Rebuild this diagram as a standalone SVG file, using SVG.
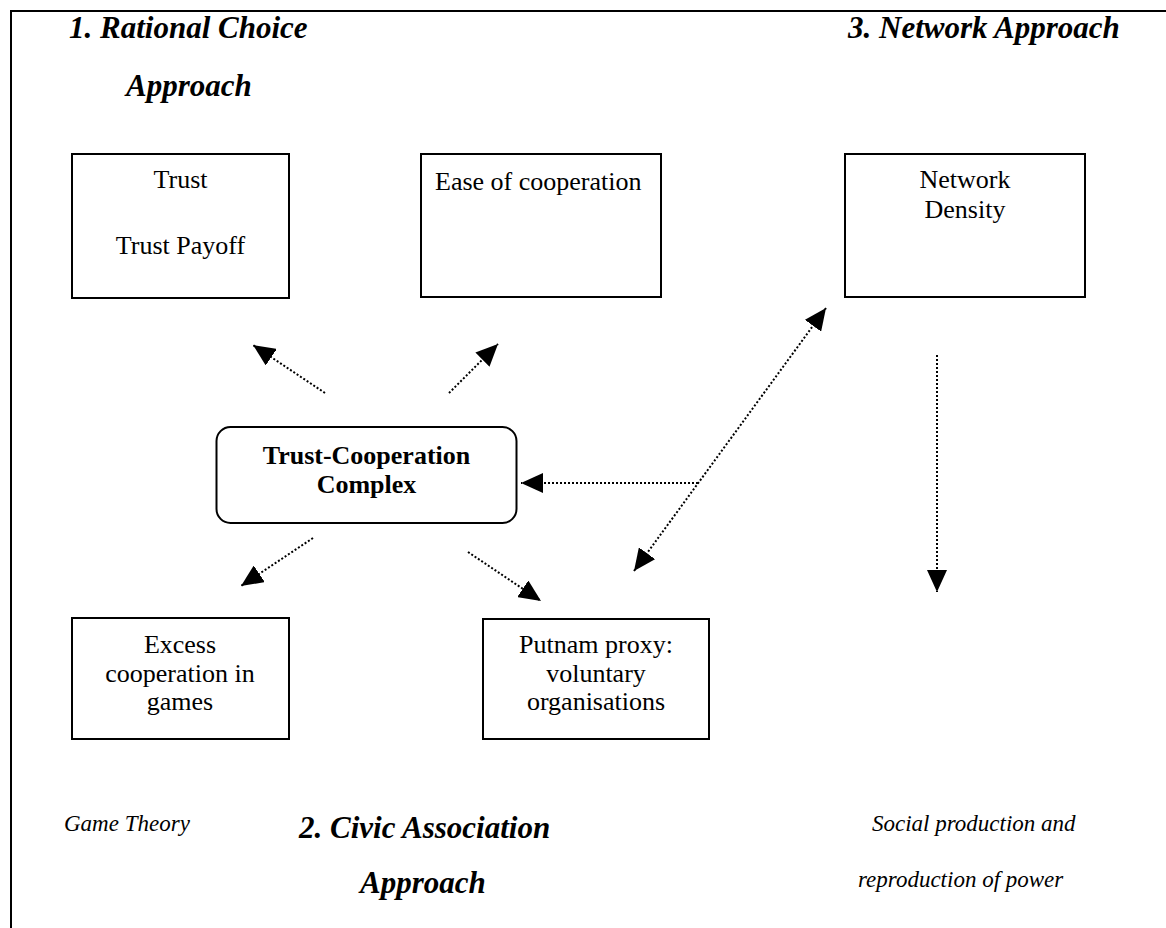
<svg xmlns="http://www.w3.org/2000/svg" width="1166" height="928" viewBox="0 0 1166 928">
<defs>
<style>
.box{fill:#fff;stroke:#000;stroke-width:2}
.t{font-family:"Liberation Serif","Times New Roman",serif;font-size:26px;fill:#000}
.c{text-anchor:middle}
.b{font-weight:bold}
.h{font-family:"Liberation Serif","Times New Roman",serif;font-size:31px;font-weight:bold;font-style:italic;fill:#000}
.s{font-family:"Liberation Serif","Times New Roman",serif;font-size:23px;font-style:italic;fill:#000}
.con{fill:none;stroke:#000;stroke-width:2;stroke-dasharray:2 2}
</style>
<marker id="ah" viewBox="0 0 22 20" refX="22" refY="10" markerWidth="22" markerHeight="20" markerUnits="userSpaceOnUse" orient="auto-start-reverse">
<path d="M0,0 L22,10 L0,20 z" fill="#000"/>
</marker>
</defs>
<rect width="1166" height="928" fill="#fff"/>
<g id="frame" stroke="#000" stroke-width="2" fill="none">
<line x1="10" y1="11" x2="1166" y2="11"/>
<line x1="11" y1="10" x2="11" y2="928"/>
</g>
<g id="headings">
<text class="h" x="69" y="38">1. Rational Choice</text>
<text class="h" x="126" y="96">Approach</text>
<text class="h" x="848" y="38">3. Network Approach</text>
<text class="h" x="299" y="838">2. Civic Association</text>
<text class="h" x="360" y="893">Approach</text>
<text class="s" x="64" y="831">Game Theory</text>
<text class="s" x="872" y="831">Social production and</text>
<text class="s" x="858" y="887">reproduction of power</text>
</g>
<g id="trust">
<rect class="box" x="72" y="154" width="217" height="144"/>
<text class="t c" x="180.5" y="188">Trust</text>
<text class="t c" x="180.5" y="254">Trust Payoff</text>
</g>
<g id="ease">
<rect class="box" x="421" y="154" width="240" height="143"/>
<text class="t" x="435" y="190">Ease of cooperation</text>
</g>
<g id="network">
<rect class="box" x="845" y="154" width="240" height="143"/>
<text class="t c" x="965" y="188">Network</text>
<text class="t c" x="965" y="218">Density</text>
</g>
<g id="complex">
<rect class="box" x="216.5" y="427" width="300" height="96" rx="14" ry="14"/>
<text class="t c b" x="366.5" y="464">Trust-Cooperation</text>
<text class="t c b" x="366.5" y="493">Complex</text>
</g>
<g id="excess">
<rect class="box" x="72" y="618" width="217" height="121"/>
<text class="t c" x="180" y="653">Excess</text>
<text class="t c" x="180" y="682">cooperation in</text>
<text class="t c" x="180" y="710">games</text>
</g>
<g id="putnam">
<rect class="box" x="483" y="619" width="226" height="120"/>
<text class="t c" x="596" y="653">Putnam proxy:</text>
<text class="t c" x="596" y="682">voluntary</text>
<text class="t c" x="596" y="710">organisations</text>
</g>
<g id="connectors">
<line class="con" x1="325" y1="393" x2="253" y2="345" marker-end="url(#ah)"/>
<line class="con" x1="449" y1="393" x2="498" y2="344" marker-end="url(#ah)"/>
<line class="con" x1="313" y1="538" x2="241" y2="586" marker-end="url(#ah)"/>
<line class="con" x1="468" y1="552" x2="541" y2="601" marker-end="url(#ah)"/>
<line class="con" x1="698" y1="483" x2="521" y2="483" marker-end="url(#ah)"/>
<line class="con" x1="634" y1="571" x2="826" y2="308" marker-start="url(#ah)" marker-end="url(#ah)"/>
<line class="con" x1="937" y1="355" x2="937" y2="592" marker-end="url(#ah)"/>
</g>
</svg>
